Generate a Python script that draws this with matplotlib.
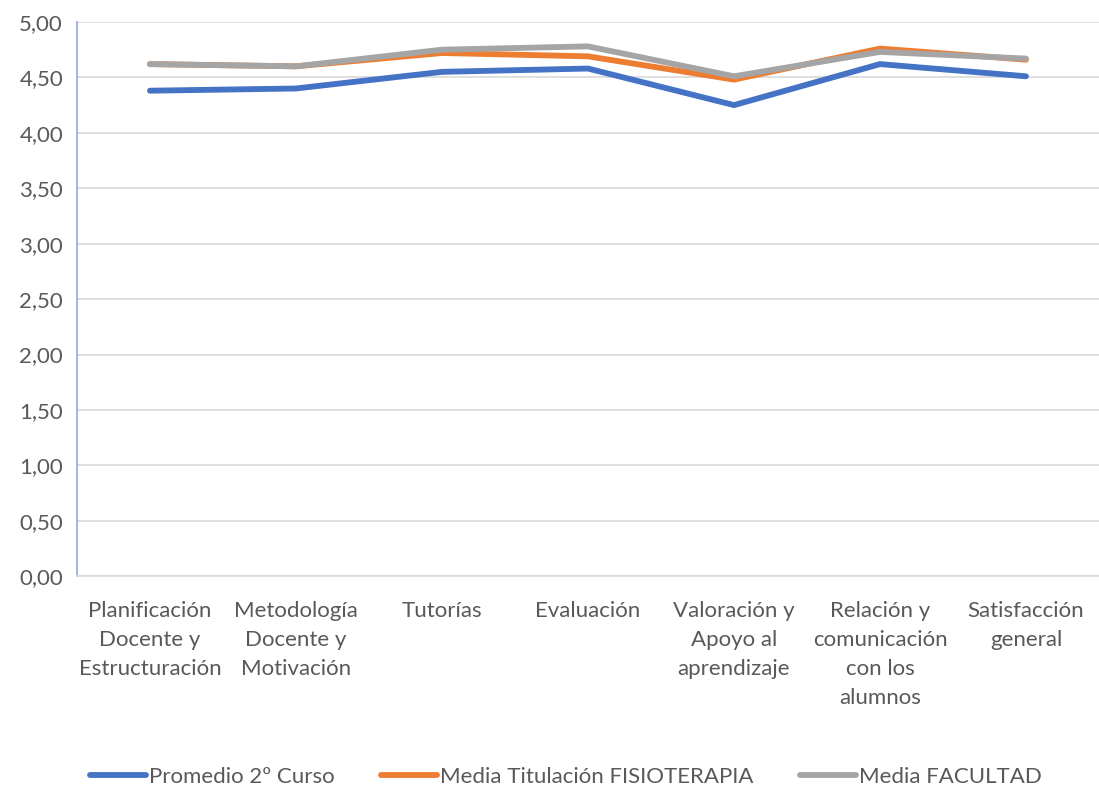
import matplotlib.pyplot as plt
from matplotlib.ticker import FuncFormatter

plt.rcParams['font.family'] = ['Lato', 'DejaVu Sans']

categories = ["Planificación\nDocente y\nEstructuración", "Metodología\nDocente y\nMotivación",
              "Tutorías", "Evaluación", "Valoración y\nApoyo al\naprendizaje",
              "Relación y\ncomunicación\ncon los\nalumnos", "Satisfacción\ngeneral"]
promedio_2 = [4.38, 4.40, 4.55, 4.58, 4.25, 4.62, 4.51]
media_titulacion = [4.62, 4.60, 4.72, 4.69, 4.48, 4.76, 4.66]
media_facultad = [4.62, 4.60, 4.75, 4.78, 4.51, 4.73, 4.67]

series = [("Promedio 2º Curso", promedio_2, "#4472C4"),
          ("Media Titulación FISIOTERAPIA", media_titulacion, "#ED7D31"),
          ("Media FACULTAD", media_facultad, "#A5A5A5")]

fig = plt.figure(figsize=(10.99, 7.85), dpi=100)
ax = fig.add_axes([0.070, 0.266, 0.930, 0.706])

x = range(len(categories))
for name, vals, color in series:
    ax.plot(x, vals, color=color, lw=4.2, solid_capstyle='round',
            solid_joinstyle='miter', label=name)

ax.set_xlim(-0.5, len(categories) - 0.5)
ax.set_ylim(0, 5)
ax.set_yticks([i * 0.5 for i in range(11)])
ax.yaxis.set_major_formatter(FuncFormatter(lambda v, p: f"{v:.2f}".replace('.', ',')))
ax.grid(axis='y', color='#d9d9d9', lw=1.2)
ax.set_axisbelow(True)
ax.set_xticks(list(x))
ax.set_xticklabels(categories, fontsize=16, color='#595959', linespacing=1.55)
ax.tick_params(axis='y', labelsize=16, labelcolor='#595959', length=0, pad=10)
ax.tick_params(axis='x', length=0, pad=18)

for s in ['top', 'right']:
    ax.spines[s].set_visible(False)
ax.spines['left'].set_color('#8faadc')
ax.spines['left'].set_linewidth(1.2)
ax.spines['bottom'].set_color('#d9d9d9')
ax.spines['bottom'].set_linewidth(1.2)

fig.legend(loc='lower center', bbox_to_anchor=(0.515, -0.028), ncol=3, frameon=False,
           fontsize=16, labelcolor='#595959', handlelength=2.5, handletextpad=0.15,
           columnspacing=2.1)

fig.savefig("out.png", dpi=100)
